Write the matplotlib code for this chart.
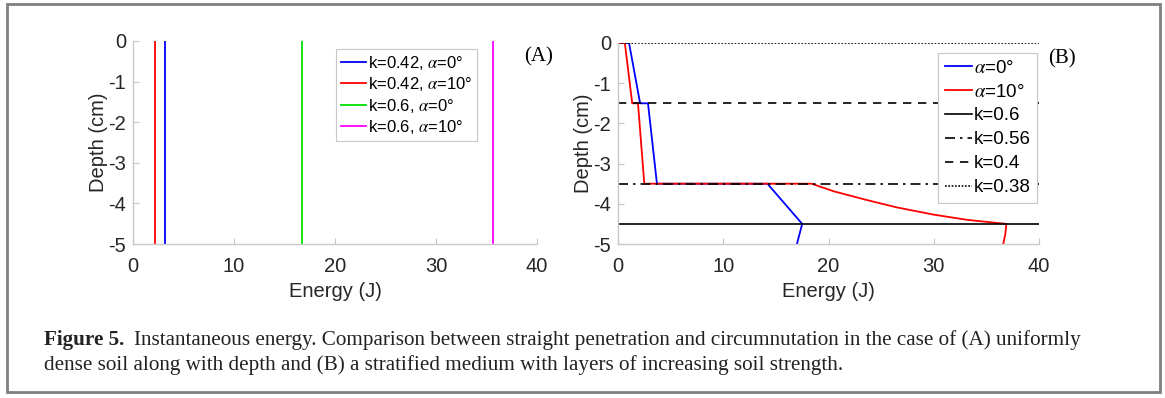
import numpy as np
import matplotlib
matplotlib.use('Agg')
import matplotlib.pyplot as plt
import matplotlib.patches as patches

plt.rcParams['font.family'] = ['Liberation Sans', 'DejaVu Sans']
plt.rcParams['mathtext.fontset'] = 'stix'
plt.rcParams['axes.unicode_minus'] = False

# --- data: panel A (uniform soil), energy is constant with depth ---
depth_A = [0, -5]
energy_A = {
    'k=0.42, $\\alpha$=0°': 3.2,
    'k=0.42, $\\alpha$=10°': 2.2,
    'k=0.6, $\\alpha$=0°': 16.7,
    'k=0.6, $\\alpha$=10°': 35.6,
}
colors_A = ['#0000ff', '#ff0000', '#00e000', '#ff00ff']

# --- data: panel B (stratified soil) ---
blue_E = [0, 1.05, 2.1, 2.85, 3.7, 14.2, 17.5, 17.0]
blue_D = [0, 0, -1.5, -1.5, -3.5, -3.5, -4.5, -5.0]
red_E = [0, 0.65, 1.35, 1.9, 2.5, 18.4, 20.5, 23.7, 26.5, 30.0, 33.2, 36.9, 36.8, 36.6]
red_D = [0, 0, -1.5, -1.5, -3.5, -3.5, -3.69, -3.91, -4.09, -4.27, -4.40, -4.50, -4.75, -5.0]
layer_k = ['k=0.6', 'k=0.56', 'k=0.4', 'k=0.38']
layer_depth = [-4.5, -3.5, -1.5, 0.0]
layer_style = ['-', (0, (6, 3, 1.5, 3)), (0, (5, 4)), (0, (1, 1))]

caption_bold = 'Figure 5.'
caption_1 = ('Instantaneous energy. Comparison between straight penetration and circumnutation '
             'in the case of (A) uniformly')
caption_2 = ('dense soil along with depth and (B) a stratified medium with layers of increasing '
             'soil strength.')

W, H = 1165, 398
fig = plt.figure(figsize=(W / 100, H / 100), dpi=100)


def px_axes(l, t, r, b):
    return fig.add_axes([l / W, 1 - b / H, (r - l) / W, (b - t) / H])


def style_axes(ax):
    ax.set_xlim(0, 40)
    ax.set_ylim(-5, 0)
    ax.set_xticks([0, 10, 20, 30, 40])
    ax.set_yticks([0, -1, -2, -3, -4, -5])
    for s in ['top', 'right']:
        ax.spines[s].set_visible(False)
    for s in ['left', 'bottom']:
        ax.spines[s].set_color('#c8c8c8')
        ax.spines[s].set_linewidth(1.0)
    ax.tick_params(direction='in', length=4, color='#c8c8c8', labelsize=14.5,
                   labelcolor='#262626', pad=5)
    ax.tick_params(axis='x', pad=9)
    ax.set_xlabel('Energy (J)', fontsize=14.5, color='#262626', labelpad=5)
    ax.set_ylabel('Depth (cm)', fontsize=14.5, color='#262626', labelpad=0)


# ---- panel A ----
axA = px_axes(133, 41, 537, 244)
for (lab, e), c in zip(energy_A.items(), colors_A):
    axA.plot([e, e], depth_A, color=c, lw=1.3, label=lab)
style_axes(axA)
legA = axA.legend(loc='upper left', bbox_to_anchor=((336 - 133) / 404, (244 - 49) / 203),
                  fontsize=12, handlelength=1.5, handletextpad=0.1, labelspacing=0.2,
                  borderpad=0.3, borderaxespad=0, fancybox=False, framealpha=1)
legA.get_frame().set_edgecolor('#c8c8c8')
legA.get_frame().set_linewidth(0.8)
fig.text(524 / W, 1 - 57 / H, '(A)', family='Liberation Serif', fontsize=15,
         ha='left', va='center')

# ---- panel B ----
axB = px_axes(618, 43, 1039, 244)
axB.plot(blue_E, blue_D, color='#0000ff', lw=1.3, label='$\\alpha$=0°')
axB.plot(red_E, red_D, color='#ff0000', lw=1.3, label='$\\alpha$=10°')
for k, d, ls in zip(layer_k, layer_depth, layer_style):
    axB.plot([0, 40], [d, d], color='black', lw=1.2, linestyle=ls, label=k)
style_axes(axB)
legB = axB.legend(loc='upper left', bbox_to_anchor=((938 - 618) / 421, (244 - 53) / 201),
                  fontsize=13.5, handlelength=1.45, handletextpad=0.1, labelspacing=0.36,
                  borderpad=0.35, borderaxespad=0, fancybox=False, framealpha=1)
legB.get_frame().set_edgecolor('#c8c8c8')
legB.get_frame().set_linewidth(0.8)
fig.text(1048 / W, 1 - 59 / H, '(B)', family='Liberation Serif', fontsize=15,
         ha='left', va='center')

# ---- outer frame ----
fig.patches.append(patches.Rectangle((7 / W, 1 - 392 / H), (1160 - 7) / W, (392 - 4) / H,
                                     transform=fig.transFigure, fill=False,
                                     edgecolor='#808080', lw=2))

# ---- caption ----
cap_kw = dict(family='Liberation Serif', fontsize=15.2, color='#222222', va='baseline')
tb = fig.text(44 / W, 1 - 345 / H, caption_bold, fontweight='bold', **cap_kw)
fig.canvas.draw()
bb = tb.get_window_extent()
fig.text((bb.x1 + 10) / W, 1 - 345 / H, caption_1, **cap_kw)
fig.text(44 / W, 1 - 370 / H, caption_2, **cap_kw)

fig.savefig('out.png', dpi=100)
